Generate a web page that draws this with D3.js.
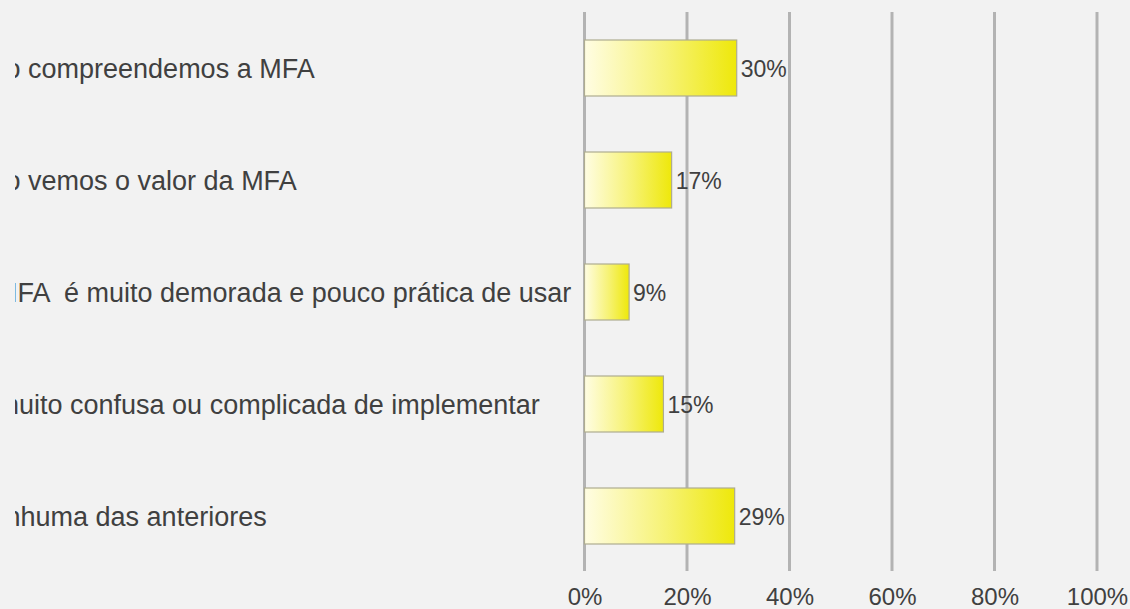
<!DOCTYPE html>
<html>
<head>
<meta charset="utf-8">
<script src="https://cdn.jsdelivr.net/npm/d3@7"></script>
<style>
  html, body { margin: 0; padding: 0; background: #f2f2f2; overflow: hidden; }
  svg { display: block; }
  text { font-family: "Liberation Sans", Arial, sans-serif; }
</style>
</head>
<body>
<svg id="chart" width="1130" height="609"></svg>
<script>
const categories = [
  "Não compreendemos a MFA",
  "Não vemos o valor da MFA",
  "A MFA  é muito demorada e pouco prática de usar",
  "É muito confusa ou complicada de implementar",
  "Nenhuma das anteriores"
];
const values = [29.7, 17.0, 8.7, 15.4, 29.3];
const valueLabels = ["30%", "17%", "9%", "15%", "29%"];
const tickValues = [0, 20, 40, 60, 80, 100];
const tickLabels = ["0%", "20%", "40%", "60%", "80%", "100%"];

const svg = d3.select("#chart");
const W = 1130, H = 609;
svg.append("rect").attr("width", W).attr("height", H).attr("fill", "#f2f2f2");

const x = d3.scaleLinear().domain([0, 100]).range([584.5, 1097]);
const y = d3.scaleBand().domain(categories).range([12, 572]).paddingInner(0.5).paddingOuter(0.25);

const defs = svg.append("defs");
const grad = defs.append("linearGradient").attr("id", "barGrad")
  .attr("x1", "0%").attr("x2", "100%").attr("y1", "0%").attr("y2", "0%");
grad.append("stop").attr("offset", "0%").attr("stop-color", "#fffde3");
grad.append("stop").attr("offset", "55%").attr("stop-color", "#f6f272");
grad.append("stop").attr("offset", "100%").attr("stop-color", "#eee80a");

defs.append("clipPath").attr("id", "labelClip")
  .append("rect").attr("x", 15).attr("y", 0).attr("width", 565).attr("height", H);

// gridlines
const grid = svg.append("g");
grid.selectAll("line").data(tickValues).join("line")
  .attr("x1", d => x(d)).attr("x2", d => x(d))
  .attr("y1", 12).attr("y2", 571)
  .attr("stroke", "#b3b3b3").attr("stroke-width", 3);

// x axis tick labels via d3 axis
const axis = d3.axisBottom(x).tickValues(tickValues)
  .tickFormat((d, i) => tickLabels[i]).tickSize(0).tickPadding(0);
const ax = svg.append("g").attr("transform", "translate(0,587)").call(axis);
ax.select(".domain").remove();
ax.selectAll("text").attr("font-size", 24).attr("fill", "#404040")
  .attr("dy", "0.75em").attr("font-family", "Liberation Sans, Arial, sans-serif");

// bars
svg.append("g").selectAll("rect").data(values).join("rect")
  .attr("x", x(0))
  .attr("y", (d, i) => y(categories[i]))
  .attr("width", d => x(d) - x(0))
  .attr("height", y.bandwidth())
  .attr("fill", "url(#barGrad)")
  .attr("stroke", "#aeac90").attr("stroke-width", 1.2);

// value labels
svg.append("g").selectAll("text").data(values).join("text")
  .attr("x", d => x(d) + 4)
  .attr("y", (d, i) => y(categories[i]) + y.bandwidth() / 2 + 9)
  .attr("font-size", 23).attr("fill", "#404040")
  .text((d, i) => valueLabels[i]);

// category labels (left-aligned, clipped at left as in the reference)
svg.append("g").attr("clip-path", "url(#labelClip)")
  .selectAll("text").data(categories).join("text")
  .attr("x", -29)
  .attr("y", d => y(d) + y.bandwidth() / 2 + 10)
  .attr("text-anchor", "start")
  .attr("font-size", 27).attr("fill", "#404040")
  .attr("xml:space", "preserve")
  .style("white-space", "pre")
  .text(d => d);
</script>
</body>
</html>
